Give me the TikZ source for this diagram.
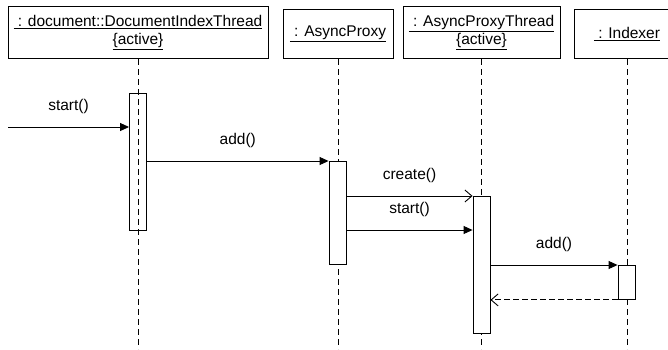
\documentclass[tikz,border=0pt]{standalone}
\usepackage{fontspec}
\setmainfont{Liberation Sans}
\usetikzlibrary{arrows.meta}

\begin{document}
\begin{tikzpicture}[x=1pt, y=-1pt, line width=0.9pt,
    font=\fontsize{15.5}{18}\selectfont,
    object/.style={draw, anchor=south, inner sep=0pt, align=center, minimum height=#1},
    object/.default=52,
    actbar/.style={draw, anchor=north, minimum width=17pt, inner sep=0pt},
    lifeline/.style={dash pattern=on 6pt off 4pt},
    call/.style={-{Triangle[length=9pt, width=8pt]}},
    newcall/.style={-{Straight Barb[length=7pt, width=12pt]}},
    reply/.style={dash pattern=on 6pt off 3pt, -{Straight Barb[length=7pt, width=12pt]}},
    msg/.style={midway, above=13pt, inner sep=0pt}]
    \useasboundingbox (0,0) rectangle (668,349);

    % draw objects
    \node[object, minimum width=260pt] (indexthread) at (138,59)
      {\underline{ : document::DocumentIndexThread}\\\underline{\{active\}}};
    \node[object=49, minimum width=110pt] (proxy) at (338,59) {\underline{ : AsyncProxy}};
    \node[object, minimum width=157pt] (proxythread) at (481.5,59)
      {\underline{ : AsyncProxyThread}\\\underline{\{active\}}};
    \node[object=49, minimum width=106pt] (indexer) at (627,59) {\underline{ : Indexer}};

    % draw lifelines
    \foreach \obj in {indexthread,proxy,proxythread,indexer}
      \draw[lifeline] (\obj.south) -- (\obj.south |- 0,349);

    % draw activations
    \node[actbar, minimum height=137pt] (bar1) at (138,93) {};
    \node[actbar, fill=white, minimum height=103pt] (bar2) at (337.5,161) {};
    \node[actbar, fill=white, minimum height=137pt] (bar3) at (481.5,196) {};
    \node[actbar, fill=white, minimum height=34pt] (bar4) at (626.5,265) {};

    % draw messages
    \coordinate (caller) at (8,127);
    \draw[call] (caller) -- (caller -| bar1.west) node[msg] {start()};
    \draw[call] (bar1.east |- bar2.north) -- (bar2.north west) node[msg] {add()};
    \draw[newcall] (bar2.east |- bar3.north) -- (bar3.north west) node[msg] {create()};
    \draw[call] (bar2.east |- 0,230) -- (bar3.west |- 0,230) node[msg] {start()};
    \draw[call] (bar3.east |- bar4.north) -- (bar4.north west) node[msg] {add()};
    \draw[reply] (bar4.south west) -- (bar3.east |- bar4.south);
\end{tikzpicture}
\end{document}
